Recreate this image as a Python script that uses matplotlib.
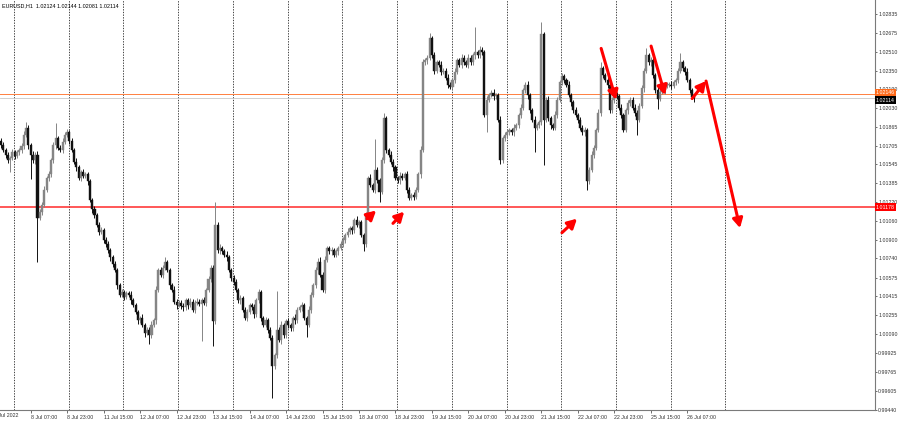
import matplotlib
matplotlib.use("Agg")
import matplotlib.pyplot as plt

plt.rcParams["font.family"] = ["Liberation Sans", "DejaVu Sans"]

# ---------------- data ----------------
symbol_text = "EURUSD,H1  1.02124 1.02144 1.02081 1.02114"
first_open = 1.0175

close = [
    1.0171, 1.0167, 1.0163, 1.0158, 1.0160, 1.0165, 1.0162, 1.0165, 1.0167, 1.0170, 1.0180, 1.0186, 1.0171, 1.0163, 1.0158, 1.0163, 1.0109, 1.0114, 1.0120, 1.0133,
    1.0143, 1.0146, 1.0158, 1.0171, 1.0177, 1.0169, 1.0167, 1.0174, 1.0180, 1.0182, 1.0175, 1.0167, 1.0157, 1.0152, 1.0143, 1.0148, 1.0145, 1.0146, 1.0140, 1.0124,
    1.0116, 1.0111, 1.0103, 1.0097, 1.0098, 1.0090, 1.0086, 1.0081, 1.0075, 1.0069, 1.0064, 1.0051, 1.0043, 1.0045, 1.0041, 1.0044, 1.0043, 1.0038, 1.0034, 1.0028,
    1.0021, 1.0023, 1.0017, 1.0010, 1.0013, 1.0008, 1.0017, 1.0021, 1.0047, 1.0064, 1.0060, 1.0066, 1.0071, 1.0064, 1.0051, 1.0047, 1.0037, 1.0034, 1.0036, 1.0033,
    1.0032, 1.0038, 1.0034, 1.0037, 1.0030, 1.0036, 1.0037, 1.0035, 1.0038, 1.0036, 1.0047, 1.0056, 1.0066, 1.0020, 1.0103, 1.0081, 1.0083, 1.0080, 1.0077, 1.0075,
    1.0064, 1.0057, 1.0054, 1.0047, 1.0038, 1.0040, 1.0030, 1.0023, 1.0028, 1.0034, 1.0032, 1.0026, 1.0038, 1.0045, 1.0023, 1.0017, 1.0021, 1.0013, 1.0006, 0.9982,
    0.9991, 1.0013, 1.0004, 1.0017, 1.0008, 1.0020, 1.0017, 1.0014, 1.0023, 1.0021, 1.0030, 1.0032, 1.0034, 1.0023, 1.0017, 1.0030, 1.0043, 1.0051, 1.0064, 1.0071,
    1.0060, 1.0047, 1.0073, 1.0083, 1.0080, 1.0081, 1.0077, 1.0080, 1.0083, 1.0086, 1.0090, 1.0094, 1.0097, 1.0100, 1.0098, 1.0107, 1.0103, 1.0105, 1.0094, 1.0086,
    1.0111, 1.0143, 1.0137, 1.0133, 1.0150, 1.0141, 1.0131, 1.0158, 1.0194, 1.0167, 1.0163, 1.0157, 1.0152, 1.0143, 1.0141, 1.0145, 1.0143, 1.0146, 1.0133, 1.0126,
    1.0128, 1.0127, 1.0133, 1.0146, 1.0167, 1.0242, 1.0244, 1.0246, 1.0263, 1.0248, 1.0235, 1.0242, 1.0240, 1.0234, 1.0235, 1.0229, 1.0223, 1.0221, 1.0227, 1.0234,
    1.0244, 1.0240, 1.0246, 1.0242, 1.0240, 1.0246, 1.0242, 1.0248, 1.0251, 1.0248, 1.0253, 1.0251, 1.0197, 1.0210, 1.0214, 1.0216, 1.0213, 1.0214, 1.0193, 1.0158,
    1.0177, 1.0180, 1.0182, 1.0184, 1.0182, 1.0186, 1.0188, 1.0197, 1.0203, 1.0218, 1.0223, 1.0214, 1.0201, 1.0193, 1.0186, 1.0188, 1.0191, 1.0266, 1.0193, 1.0210,
    1.0194, 1.0188, 1.0186, 1.0197, 1.0210, 1.0225, 1.0230, 1.0227, 1.0223, 1.0214, 1.0208, 1.0201, 1.0197, 1.0193, 1.0186, 1.0182, 1.0184, 1.0140, 1.0150, 1.0163,
    1.0169, 1.0184, 1.0199, 1.0237, 1.0231, 1.0227, 1.0223, 1.0201, 1.0210, 1.0215, 1.0213, 1.0203, 1.0197, 1.0184, 1.0201, 1.0207, 1.0210, 1.0203, 1.0199, 1.0193,
    1.0205, 1.0220, 1.0235, 1.0248, 1.0242, 1.0244, 1.0231, 1.0218, 1.0211, 1.0217, 1.0218, 1.0222, 1.0223, 1.0223, 1.0222, 1.0225, 1.0227, 1.0235, 1.0242, 1.0237,
    1.0234, 1.0227, 1.0218, 1.02124, 1.02114,
]

# wick lengths above / below the body, in pips (0.0001)
wick_up = [
    2, 3, 2, 2, 2, 3, 2, 2, 2, 3, 3, 5, 2, 2, 3, 2, 3, 2, 2, 3,
    2, 3, 2, 3, 13, 2, 2, 3, 2, 3, 2, 2, 2, 3, 2, 2, 3, 2, 2, 2,
    2, 3, 2, 2, 3, 2, 2, 3, 2, 2, 3, 2, 2, 3, 2, 2, 2, 3, 2, 2,
    2, 2, 3, 2, 2, 2, 3, 2, 3, 2, 3, 2, 4, 2, 2, 2, 3, 2, 2, 2,
    3, 2, 2, 3, 2, 2, 3, 2, 2, 3, 2, 3, 2, 2, 19, 2, 3, 2, 2, 3,
    2, 2, 3, 2, 2, 3, 2, 2, 3, 2, 2, 3, 2, 3, 2, 2, 3, 2, 2, 2,
    2, 33, 2, 3, 2, 2, 3, 2, 2, 3, 2, 2, 3, 2, 2, 3, 2, 2, 3, 3,
    4, 2, 3, 2, 2, 3, 2, 2, 2, 3, 2, 2, 3, 2, 2, 2, 3, 2, 2, 2,
    3, 2, 3, 2, 26, 2, 2, 3, 5, 2, 2, 3, 2, 2, 2, 3, 2, 2, 3, 2,
    2, 3, 2, 2, 3, 3, 2, 2, 4, 2, 3, 2, 2, 3, 2, 2, 3, 2, 2, 3,
    2, 2, 3, 2, 2, 3, 2, 2, 21, 2, 3, 2, 2, 3, 2, 2, 3, 2, 2, 3,
    2, 2, 3, 2, 2, 3, 2, 2, 3, 2, 2, 3, 2, 2, 3, 2, 2, 11, 2, 2,
    3, 2, 2, 3, 2, 2, 3, 2, 2, 3, 2, 2, 3, 2, 2, 2, 3, 2, 2, 3,
    2, 2, 3, 5, 2, 2, 3, 2, 2, 3, 2, 2, 3, 2, 2, 3, 2, 2, 3, 2,
    2, 3, 2, 6, 2, 3, 2, 2, 3, 2, 2, 3, 2, 2, 3, 2, 2, 2, 8, 2,
    2, 3, 2, 2, 2,
]
wick_dn = [
    2, 2, 3, 2, 10, 2, 3, 2, 2, 3, 2, 2, 3, 21, 2, 3, 38, 2, 3, 2,
    2, 3, 2, 2, 3, 2, 2, 3, 2, 2, 3, 2, 2, 3, 2, 3, 2, 2, 3, 2,
    3, 2, 2, 3, 2, 3, 2, 2, 3, 2, 2, 3, 2, 2, 3, 2, 2, 3, 2, 2,
    3, 2, 2, 3, 2, 7, 2, 2, 3, 2, 2, 3, 2, 2, 3, 2, 2, 3, 2, 2,
    3, 2, 3, 2, 2, 3, 2, 2, 32, 2, 3, 2, 2, 21, 2, 2, 3, 2, 2, 3,
    2, 2, 3, 2, 2, 3, 2, 2, 3, 2, 2, 3, 2, 2, 3, 2, 2, 3, 2, 28,
    3, 2, 2, 3, 2, 2, 3, 2, 2, 3, 2, 2, 3, 2, 10, 2, 3, 2, 2, 3,
    2, 2, 3, 2, 2, 3, 2, 2, 3, 2, 2, 3, 2, 2, 3, 2, 2, 3, 2, 6,
    2, 3, 2, 2, 3, 2, 9, 2, 2, 3, 2, 2, 3, 2, 2, 3, 2, 2, 3, 2,
    2, 3, 2, 2, 3, 2, 2, 3, 2, 2, 3, 2, 2, 3, 2, 2, 3, 2, 2, 3,
    2, 2, 3, 2, 2, 3, 2, 2, 3, 2, 2, 3, 2, 15, 2, 2, 3, 2, 2, 3,
    2, 2, 3, 2, 2, 3, 2, 2, 3, 2, 2, 3, 2, 2, 21, 2, 2, 3, 39, 2,
    2, 3, 2, 2, 3, 2, 2, 3, 2, 2, 3, 2, 2, 3, 2, 2, 3, 7, 2, 2,
    3, 2, 2, 3, 2, 2, 3, 2, 2, 3, 2, 2, 3, 2, 2, 3, 2, 2, 3, 13,
    2, 2, 3, 2, 2, 3, 2, 2, 9, 2, 2, 3, 2, 2, 3, 2, 2, 3, 2, 2,
    3, 2, 2, 2, 3.3,
]

time_labels = ["8 Jul 07:00", "8 Jul 23:00", "11 Jul 15:00", "12 Jul 07:00", "12 Jul 23:00",
               "13 Jul 15:00", "14 Jul 07:00", "14 Jul 23:00", "15 Jul 15:00", "18 Jul 07:00",
               "18 Jul 23:00", "19 Jul 15:00", "20 Jul 07:00", "20 Jul 23:00", "21 Jul 15:00",
               "22 Jul 07:00", "22 Jul 23:00", "25 Jul 15:00", "26 Jul 07:00"]
time_label_bars = [13, 29, 45, 61, 77, 93, 109, 125, 141, 157, 173, 189, 205, 221, 237, 253, 269, 285, 301]
first_label = "7 Jul 2022"
first_label_bar = -3
day_start_bars = [6, 30, 54, 78, 102, 126, 150, 174, 198, 222, 246, 270, 294, 318]

price_ticks = [1.02835, 1.02675, 1.02510, 1.02350, 1.02190, 1.02030, 1.01865, 1.01705,
               1.01545, 1.01385, 1.01220, 1.01060, 1.00900, 1.00740, 1.00575, 1.00415,
               1.00255, 1.00090, 0.99925, 0.99765, 0.99605, 0.99440]

red_level = 1.01178
orange_level = 1.02146
bid_level = 1.02114

# arrows: (start bar, start price, end bar, end price)
arrows = [
    (160.5, 1.0108, 164.5, 1.0115),
    (171.9, 1.0104, 176.8, 1.0114),
    (246.0, 1.0096, 252.6, 1.0108),
    (263.2, 1.0254, 269.7, 1.0210),
    (285.1, 1.0256, 291.2, 1.0214),
    (303.1, 1.0211, 309.2, 1.0226),
    (309.2, 1.0226, 324.1, 1.0100),
]

# ---------------- figure ----------------
W, H = 900, 424
FS = 3.8
fig = plt.figure(figsize=(W / 100, H / 100), dpi=100)
fig.patch.set_facecolor("white")
ax = fig.add_axes([0, 14 / H, 875 / W, 410 / H])
ax.set_facecolor("white")

n = len(close)
opens = [first_open] + close[:-1]
bull_col = "#858585"
bear_col = "#111111"
for j in range(n):
    o, c = opens[j], close[j]
    hi = max(o, c) + wick_up[j] * 1e-4
    lo = min(o, c) - wick_dn[j] * 1e-4
    col = bull_col if c >= o else bear_col
    ax.vlines(j, lo, hi, color=col, lw=0.7, zorder=3)
    h = abs(c - o)
    if h < 0.00003:
        h = 0.00003
    ax.bar(j, h, bottom=min(o, c), width=0.9, color=col, edgecolor=col, lw=0.3, zorder=4)

ax.set_xlim(-0.44, 383.3)
ax.set_ylim(0.99440, 1.02955)

# day separators
for d in day_start_bars:
    ax.axvline(d - 0.3, color="#222222", lw=0.6, ls=(0, (1.6, 1.6)), zorder=1)

# horizontal levels
ax.axhline(bid_level, color="#c8c8c8", lw=0.6, zorder=2)
ax.axhline(orange_level, color="#ff8040", lw=0.7, zorder=2)
ax.axhline(red_level, color="#ff2a2a", lw=1.1, zorder=2)

# arrows
for x0, y0, x1, y1 in arrows:
    ax.annotate("", xy=(x1, y1), xytext=(x0, y0),
                arrowprops=dict(arrowstyle="-|>,head_length=0.55,head_width=0.3",
                                color="#ff0000", lw=2.2, shrinkA=0, shrinkB=0),
                annotation_clip=False, zorder=6)

# axes styling
for s in ("top", "left"):
    ax.spines[s].set_visible(False)
for s in ("right", "bottom"):
    ax.spines[s].set_color("#7a7a7a")
    ax.spines[s].set_linewidth(0.8)

ax.yaxis.tick_right()
ax.set_yticks(price_ticks)
ax.set_yticklabels([f"{p:.5f}" for p in price_ticks])
ax.tick_params(axis="y", labelsize=FS, length=1.5, width=0.5, pad=0.8, colors="#333333")

ax.set_xticks(time_label_bars)
ax.set_xticklabels(time_labels, ha="left")
ax.tick_params(axis="x", labelsize=FS, length=2.5, width=0.5, pad=0.8, colors="#333333")

xt = ax.get_xaxis_transform()
ax.text(first_label_bar, -0.0085, first_label, transform=xt, fontsize=FS, color="#333333",
        ha="left", va="top", clip_on=False)

# price boxes on the right axis
yt = ax.get_yaxis_transform()
ax.text(1.001, orange_level + 0.00012, f"{orange_level:.5f}", transform=yt, fontsize=FS,
        color="white", ha="left", va="center", clip_on=False, zorder=7,
        bbox=dict(facecolor="#ff6a1a", edgecolor="none", boxstyle="square,pad=0.25"))
ax.text(1.001, bid_level - 0.00018, f"{bid_level:.5f}", transform=yt, fontsize=FS,
        color="white", ha="left", va="center", clip_on=False, zorder=8,
        bbox=dict(facecolor="black", edgecolor="none", boxstyle="square,pad=0.25"))
ax.text(1.001, red_level, f"{red_level:.5f}", transform=yt, fontsize=FS,
        color="white", ha="left", va="center", clip_on=False, zorder=8,
        bbox=dict(facecolor="#ff0000", edgecolor="none", boxstyle="square,pad=0.25"))

fig.text(2 / W, 1 - 6 / H, symbol_text, fontsize=3.9, color="black", ha="left", va="center")

fig.savefig("out.png", dpi=100, facecolor="white")
